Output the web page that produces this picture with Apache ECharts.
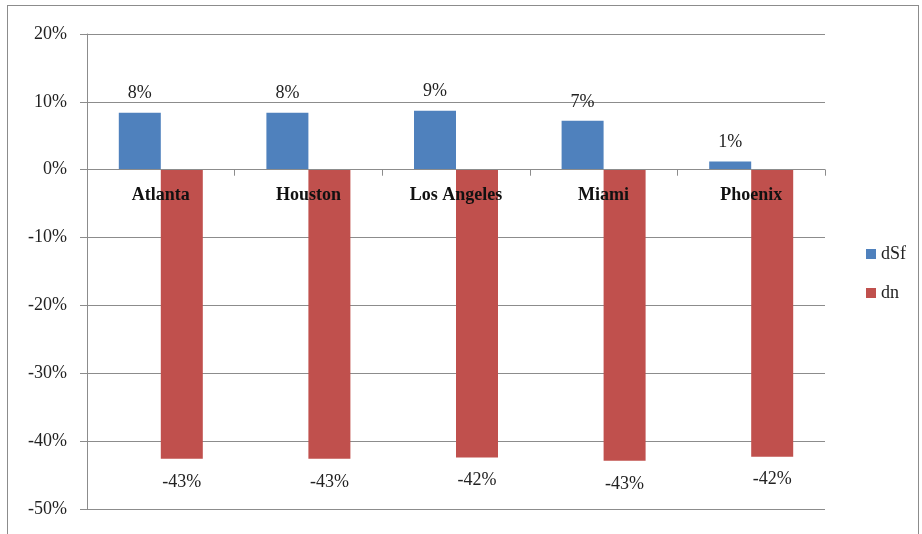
<!DOCTYPE html>
<html>
<head>
<meta charset="utf-8">
<script src="https://cdn.jsdelivr.net/npm/echarts@6/dist/echarts.min.js"></script>
<style>
	html, body { margin: 0; padding: 0; background: #fff; }
	#frame { position: absolute; left: 7px; top: 5px; width: 912px; height: 540px; border: 1px solid #8c8c8c; box-sizing: border-box; }
	#chart { position: absolute; left: 0; top: 0; width: 922px; height: 534px; }
</style>
</head>
<body>
<div id="frame"></div>
<div id="chart"></div>
<script>
// 城市
var cities = ["Atlanta", "Houston", "Los Angeles", "Miami", "Phoenix"];
// 數據 (%)
var dSf = [8.4, 8.4, 8.7, 7.2, 1.2];
var dn = [-42.6, -42.6, -42.4, -42.9, -42.3];
var seriesNames = ["dSf", "dn"];

var serif = "Liberation Serif";

var myChart = echarts.init(document.getElementById("chart"), null, {
	renderer: "canvas",
	useDirtyRect: false
});

function barSeries(name, data, color, labelPos, dist) {
	return {
		name: name,
		type: "bar",
		data: data,
		barWidth: 42,
		barGap: "0%",
		itemStyle: { color: color },
		label: {
			show: true,
			position: labelPos,
			distance: dist,
			fontFamily: serif,
			fontSize: 18,
			color: "#222",
			formatter: function (p) {
				return Math.round(p.value) + "%";
			}
		}
	};
}

var option = {
	animation: false,
	grid: { left: 87, right: 97, top: 34, bottom: 25 },
	legend: {
		orient: "vertical",
		left: 861,
		top: 240,
		itemWidth: 10,
		itemHeight: 10,
		itemGap: 21,
		icon: "rect",
		textStyle: { fontFamily: serif, fontSize: 18, color: "#222" },
		data: seriesNames
	},
	xAxis: {
		type: "category",
		data: cities,
		z: 5, // 標籤壓在柱子上
		axisLine: { onZero: true, lineStyle: { color: "#8c8c8c" } },
		axisTick: { show: true, length: 6, lineStyle: { color: "#8c8c8c" } },
		axisLabel: {
			// 標籤放在 0% 線下方
			margin: -323,
			fontFamily: serif,
			fontWeight: "bold",
			fontSize: 18,
			color: "#111"
		}
	},
	yAxis: {
		type: "value",
		min: -50,
		max: 20,
		interval: 10,
		axisLine: { show: true, lineStyle: { color: "#8c8c8c" } },
		axisTick: { show: true, length: 7, lineStyle: { color: "#8c8c8c" } },
		splitLine: { lineStyle: { color: "#8c8c8c" } },
		axisLabel: {
			margin: 20,
			fontFamily: serif,
			fontSize: 18,
			color: "#222",
			formatter: "{value}%"
		}
	},
	series: [
		barSeries("dSf", dSf, "#4F81BD", "top", 10),
		barSeries("dn", dn, "#C0504D", "bottom", 14)
	]
};
myChart.setOption(option);
window.addEventListener("resize", myChart.resize);
</script>
</body>
</html>
